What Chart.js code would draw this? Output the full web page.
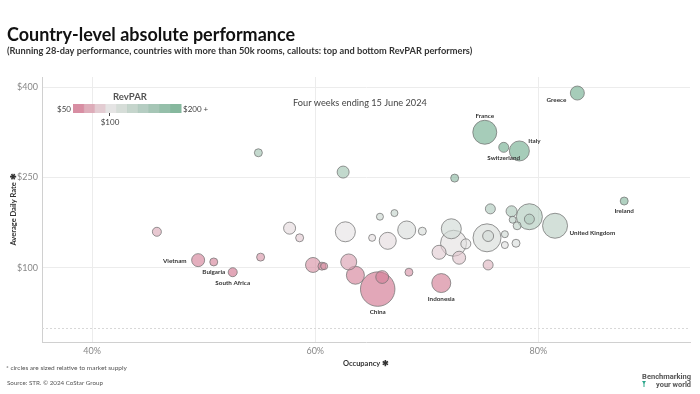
<!DOCTYPE html>
<html>
<head>
<meta charset="utf-8">
<script src="https://cdn.jsdelivr.net/npm/chart.js@4.4.1/dist/chart.umd.min.js"></script>
<style>
  html, body { margin: 0; padding: 0; background: #fff; }
  #wrap { width: 700px; height: 394px; }
</style>
</head>
<body>
<div id="wrap"><canvas id="chart" width="700" height="394"></canvas></div>
<script>
// countries with more than 50k rooms; only the callouts carry a name
const countries = [
    'Greece', 'France', 'Switzerland', 'Italy', '', '', '', 'Ireland',
    '', '', '', '', '', '', 'United Kingdom', '',
    '', '', '', '', '', '', '', '',
    '', '', '', 'Indonesia', 'China', '', '', 'Vietnam',
    'Bulgaria', 'South Africa', '', '', '', '', '', '',
    '', '', '', '', '', '', '', '', ''
];
// occupancy (%)
const occupancy = [
    83.5, 75.2, 76.9, 78.3, 54.9, 62.5, 72.5, 87.7,
    75.7, 77.6, 79.2, 79.2, 77.7, 78.1, 81.5, 72.2,
    69.6, 75.4, 75.5, 72.4, 73.5, 77.0, 77.0, 78.0,
    71.1, 72.9, 75.5, 71.3, 65.6, 66.0, 45.8, 49.5,
    50.9, 52.6, 55.1, 57.7, 58.6, 59.8, 60.6, 60.8,
    62.7, 63.0, 63.6, 65.1, 65.8, 67.1, 66.5, 68.2, 68.4
];
// average daily rate ($)
const adr = [
    390, 325, 300, 294, 291, 259, 249, 211,
    198, 194, 185, 181, 180, 170, 170, 165,
    161, 150, 153, 141, 140, 156, 138, 141,
    126, 117, 105, 75, 65, 85, 160, 113,
    110, 93, 118, 166, 150, 105, 103, 103,
    160, 110, 88, 150, 185, 191, 145, 163, 93
];
// market supply, thousand rooms (estimated from circle size)
const supply = [
    479, 1406, 244, 977, 156, 352, 156, 156,
    244, 295, 1650, 244, 120, 156, 1526, 977,
    156, 1914, 295, 1650, 244, 120, 120, 156,
    479, 413, 244, 881, 2900, 400, 198, 413,
    156, 198, 156, 352, 156, 549, 156, 120,
    977, 625, 791, 120, 120, 120, 706, 791, 156
];
const xTicks = [40, 60, 80];
const yTicks = [100, 250, 400];
const legendTicks = [50, 100, 200];

// diverging RevPAR scale: pink at $50, pale at $100, green at $200+
const PINK = [209, 113, 140], MID = [229, 226, 227], GREEN = [112, 172, 142];
function revparColor(rp, alpha) {
    const v = Math.max(legendTicks[0], Math.min(legendTicks[2], rp));
    let a, b, t;
    if (v <= legendTicks[1]) {
        a = PINK; b = MID; t = (v - legendTicks[0]) / (legendTicks[1] - legendTicks[0]);
    } else {
        a = MID; b = GREEN; t = (v - legendTicks[1]) / (legendTicks[2] - legendTicks[1]);
    }
    const c = a.map((x, i) => Math.round(x + (b[i] - x) * t));
    return `rgba(${c[0]},${c[1]},${c[2]},${alpha})`;
}

// big circles first so the small ones sit on top
const points = countries.map((name, i) => ({
    x: occupancy[i],
    y: adr[i],
    r: 0.32 * Math.sqrt(supply[i]),
    name: name,
    revpar: occupancy[i] / 100 * adr[i]
})).sort((a, b) => b.r - a.r);

const callouts = {
    'Greece': 'below-left', 'France': 'above', 'Italy': 'above-right',
    'Switzerland': 'below', 'Ireland': 'below', 'United Kingdom': 'right',
    'Indonesia': 'below', 'China': 'below', 'Vietnam': 'left',
    'Bulgaria': 'below', 'South Africa': 'below'
};

function fitText(ctx, text, x, y, weight, family, width, align) {
    ctx.font = `${weight} 10px ${family}`;
    const size = 10 * width / ctx.measureText(text).width;
    ctx.font = `${weight} ${size}px ${family}`;
    ctx.textAlign = align || 'left';
    ctx.fillText(text, x, y);
}

// keep the font size, squeeze horizontally to the wanted width
function squeezeText(ctx, text, x, y, font, width) {
    ctx.font = font;
    const sx = width / ctx.measureText(text).width;
    ctx.save();
    ctx.translate(x, y);
    ctx.scale(sx, 1);
    ctx.textAlign = 'left';
    ctx.fillText(text, 0, 0);
    ctx.restore();
}

const decor = {
    id: 'decor',
    beforeDatasetsDraw(chart) {
        const { ctx, chartArea, scales } = chart;
        const y0 = scales.y.getPixelForValue(0);
        ctx.save();
        ctx.strokeStyle = '#d8d8d8';
        ctx.setLineDash([2, 2]);
        ctx.lineWidth = 1;
        ctx.beginPath();
        ctx.moveTo(chartArea.left, Math.round(y0) + 0.5);
        ctx.lineTo(chartArea.right, Math.round(y0) + 0.5);
        ctx.stroke();
        ctx.restore();
    },
    afterDatasetsDraw(chart) {
        const ctx = chart.ctx;
        const meta = chart.getDatasetMeta(0);
        ctx.save();
        ctx.fillStyle = '#333';
        ctx.font = 'bold 6.3px Lato';
        ctx.textBaseline = 'middle';
        meta.data.forEach((el, i) => {
            const p = points[i];
            const place = callouts[p.name];
            if (!place) return;
            const r = el.options.radius;
            let x = el.x, y = el.y;
            if (place === 'below') { ctx.textAlign = 'center'; y = el.y + r + 6; }
            if (place === 'above') { ctx.textAlign = 'center'; y = el.y - r - 4; }
            if (place === 'left') { ctx.textAlign = 'right'; x = el.x - r - 5; y = el.y + 1; }
            if (place === 'right') { ctx.textAlign = 'left'; x = el.x + r + 2; y = el.y + 7; }
            if (place === 'above-right') { ctx.textAlign = 'left'; x = el.x + r - 1; y = el.y - r; }
            if (place === 'below-left') { ctx.textAlign = 'right'; x = el.x - r - 4; y = el.y + 7; }
            ctx.fillText(p.name, x, y);
        });
        ctx.restore();
    },
    afterDraw(chart) {
        const { ctx, chartArea } = chart;
        ctx.save();
        ctx.textBaseline = 'middle';

        // titles
        ctx.fillStyle = '#111';
        squeezeText(ctx, 'Country-level absolute performance', 7, 35, 'bold 19px Lato', 288);
        ctx.fillStyle = '#333';
        fitText(ctx, '(Running 28-day performance, countries with more than 50k rooms, callouts: top and bottom RevPAR performers)', 7, 51, 'bold', 'Lato', 466);
        ctx.fillStyle = '#444';
        fitText(ctx, 'Four weeks ending 15 June 2024', 293, 103, 'normal', 'Lato', 134);

        // RevPAR legend
        ctx.fillStyle = '#555';
        fitText(ctx, 'RevPAR', 130, 97, 'bold', 'Lato', 34, 'center');
        const lx = 73, ly = 104, lw = 108, lh = 9, steps = 10;
        for (let s = 0; s < steps; s++) {
            const v = legendTicks[0] + (legendTicks[2] - legendTicks[0]) * (s + 0.5) / steps;
            ctx.fillStyle = revparColor(v, 0.9);
            ctx.fillRect(lx + s * lw / steps, ly, lw / steps + 0.5, lh);
        }
        ctx.fillStyle = '#444';
        ctx.font = '8px Lato';
        ctx.textAlign = 'right';
        ctx.fillText('$' + legendTicks[0], lx - 2, ly + 5);
        ctx.textAlign = 'left';
        ctx.fillText('$' + legendTicks[2] + ' +', lx + lw + 2, ly + 5);
        const tx = lx + lw * (legendTicks[1] - legendTicks[0]) / (legendTicks[2] - legendTicks[0]);
        ctx.fillRect(Math.round(tx), ly + lh, 1, 3);
        ctx.textAlign = 'center';
        ctx.fillText('$' + legendTicks[1], tx + 1, ly + 18);

        // axis titles
        ctx.fillStyle = '#333';
        ctx.font = 'bold 7.5px Lato';
        ctx.textAlign = 'center';
        ctx.fillText('Occupancy \u2731', (chartArea.left + chartArea.right) / 2, 364);
        ctx.save();
        ctx.translate(14, (chartArea.top + chartArea.bottom) / 2);
        ctx.rotate(-Math.PI / 2);
        ctx.fillText('Average Daily Rate \u2731', 0, 0);
        ctx.restore();

        // footer
        ctx.fillStyle = '#555';
        fitText(ctx, '* circles are sized relative to market supply', 6, 368, 'normal', 'Lato', 121);
        fitText(ctx, 'Source: STR. \u00a9 2024 CoStar Group', 7, 383, 'normal', 'Lato', 96);

        // logo
        ctx.fillStyle = '#555';
        fitText(ctx, 'Benchmarking', 691, 377, 'bold', '"Liberation Sans Narrow", "Roboto"', 49, 'right');
        fitText(ctx, 'your world', 691, 385, 'bold', '"Liberation Sans Narrow", "Roboto"', 35, 'right');
        ctx.fillStyle = '#2aa58a';
        ctx.beginPath();
        ctx.moveTo(642, 381); ctx.lineTo(646, 381); ctx.lineTo(644, 384);
        ctx.fill();
        ctx.fillRect(643.5, 383, 1, 4);
        ctx.restore();
    }
};

const ctx = document.getElementById('chart').getContext('2d');
new Chart(ctx, {
    type: 'bubble',
    data: {
        datasets: [{
            data: points,
            backgroundColor: c => revparColor(c.raw.revpar, 0.62),
            borderColor: 'rgba(115,115,115,0.75)',
            borderWidth: 1
        }]
    },
    options: {
        responsive: false,
        animation: false,
        events: [],
        // bubbles would otherwise push the plot edges in by their radius
        layout: { autoPadding: false, padding: { top: 77, right: 10, bottom: 0, left: 0 } },
        plugins: { legend: { display: false }, tooltip: { enabled: false } },
        scales: {
            x: {
                type: 'linear',
                min: 35.5,
                max: 93.6,
                afterBuildTicks: s => { s.ticks = xTicks.map(v => ({ value: v })); },
                afterFit: s => { s.height = 52; },
                ticks: {
                    callback: v => v + '%',
                    color: '#888',
                    font: { family: 'Lato', size: 9 },
                    padding: 4
                },
                grid: { color: '#ececec', drawTicks: false },
                border: { color: '#d0d0d0' }
            },
            y: {
                type: 'linear',
                min: -22.7,
                max: 416.6,
                afterBuildTicks: s => { s.ticks = yTicks.map(v => ({ value: v })); },
                afterFit: s => { s.width = 42; },
                ticks: {
                    callback: v => '$' + v,
                    color: '#888',
                    font: { family: 'Lato', size: 9 },
                    padding: 4
                },
                grid: { color: '#ececec', drawTicks: false },
                border: { color: '#d0d0d0' }
            }
        }
    },
    plugins: [decor]
});
</script>
</body>
</html>
